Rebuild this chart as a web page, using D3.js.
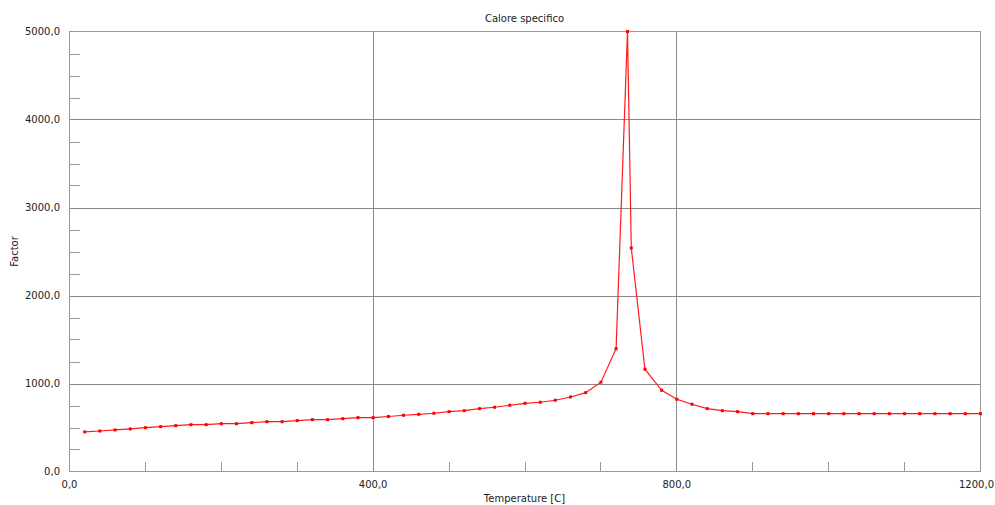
<!DOCTYPE html>
<html><head><meta charset="utf-8">
<script src="https://cdn.jsdelivr.net/npm/d3@7"></script>
<style>
html,body{margin:0;padding:0;background:#fff;}
svg{display:block;font-family:"DejaVu Sans",sans-serif;}
</style></head>
<body>
<svg id="chart" width="995" height="505"></svg>
<script>
const title = "Calore specifico";
const xTitle = "Temperature [C]";
const yTitle = "Factor";
const temperatures = [20,40,60,80,100,120,140,160,180,200,220,240,260,280,300,320,340,360,380,400,
  420,440,460,480,500,520,540,560,580,600,620,640,660,680,700,720,735,740,758,780,800,820,840,860,880,900,
  920,940,960,980,1000,1020,1040,1060,1080,1100,1120,1140,1160,1180,1200];
const factors = [450,460,472,484,498,509,521,532,532,543,543,555,566,566,578,589,589,600,612,612,
  625,639,650,662,680,691,714,730,753,775,787,810,847,896,1015,1396,5000,2540,1162,923,821,764,714,691,680,657,
  657,657,657,657,657,657,657,657,657,657,657,657,657,657,657];
const xMajorTicks = [0,400,800,1200];
const xMinorTicks = [100,200,300,500,600,700,900,1000,1100];
const yMajorTicks = [0,1000,2000,3000,4000,5000];
const yMinorTicks = [250,500,750,1250,1500,1750,2250,2500,2750,3250,3500,3750,4250,4500,4750];

const data = temperatures.map((t,i)=>({t, v: factors[i]}));
const svg = d3.select("#chart");
const x = d3.scaleLinear().domain([0,1200]).range([69.5,980.5]);
const y = d3.scaleLinear().domain([0,5000]).range([471.5,31.5]);
const fmt = d => d3.format(".1f")(d).replace(".", ",");
const gridCol = "#8a8a8a";

const g = svg.append("g").attr("shape-rendering","crispEdges");
g.selectAll(".gx").data(xMajorTicks.slice(1,-1)).join("line")
  .attr("x1",d=>Math.floor(x(d))+0.5).attr("x2",d=>Math.floor(x(d))+0.5)
  .attr("y1",y(0)).attr("y2",y(5000)).attr("stroke",gridCol);
g.selectAll(".gy").data(yMajorTicks.slice(1,-1)).join("line")
  .attr("x1",x(0)).attr("x2",x(1200))
  .attr("y1",d=>Math.round(y(d))+0.5).attr("y2",d=>Math.round(y(d))+0.5).attr("stroke",gridCol);
g.selectAll(".mx").data(xMinorTicks).join("line")
  .attr("x1",d=>Math.floor(x(d))+0.5).attr("x2",d=>Math.floor(x(d))+0.5)
  .attr("y1",y(0)).attr("y2",y(0)-10).attr("stroke","#999");
g.selectAll(".my").data(yMinorTicks).join("line")
  .attr("x1",x(0)).attr("x2",x(0)+10)
  .attr("y1",d=>Math.round(y(d))+0.5).attr("y2",d=>Math.round(y(d))+0.5).attr("stroke","#999");
g.append("rect").attr("x",x(0)).attr("y",y(5000)).attr("width",x(1200)-x(0)).attr("height",y(0)-y(5000))
  .attr("fill","none").attr("stroke","#999");

svg.selectAll(".yl").data(yMajorTicks).join("text")
  .attr("x",60).attr("y",d=>y(d)).attr("dy","0.35em").attr("text-anchor","end")
  .attr("font-size",10).attr("fill","#222").text(fmt);
svg.selectAll(".xl").data(xMajorTicks).join("text")
  .attr("x",d=> d===1200 ? 994 : x(d)).attr("y",488)
  .attr("text-anchor",d=> d===1200 ? "end" : "middle")
  .attr("font-size",10).attr("fill","#222").text(fmt);

svg.append("text").attr("x",524.5).attr("y",22).attr("text-anchor","middle")
  .attr("font-size",10).attr("fill","#222").text(title);
svg.append("text").attr("x",524.5).attr("y",502).attr("text-anchor","middle")
  .attr("font-size",10).attr("fill","#222").text(xTitle);
svg.append("text").attr("transform","translate(18,251.5) rotate(-90)").attr("text-anchor","middle")
  .attr("font-size",10).attr("fill","#222").text(yTitle);

svg.append("path").datum(data)
  .attr("d", d3.line().x(d=>x(d.t)).y(d=>y(d.v)))
  .attr("fill","none").attr("stroke","#ff1a1a").attr("stroke-width",1.2);
svg.selectAll(".pt").data(data).join("rect")
  .attr("x",d=>x(d.t)-1.5).attr("y",d=>y(d.v)-1.5).attr("width",3).attr("height",3)
  .attr("fill","#ff0000");
</script>
</body></html>
